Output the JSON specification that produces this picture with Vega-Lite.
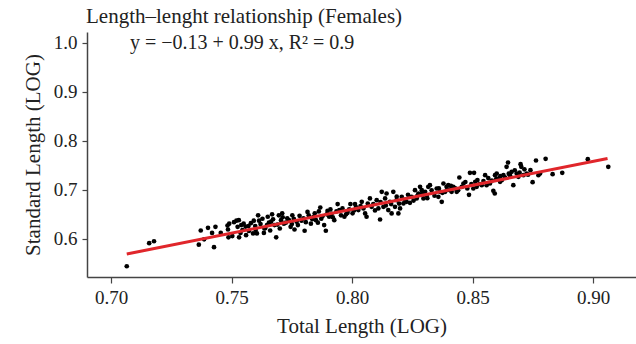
{
  "$schema": "https://vega.github.io/schema/vega-lite/v6.json",
  "width": 549,
  "height": 245,
  "autosize": {"type": "none"},
  "padding": {"left": 87, "top": 32, "right": 0, "bottom": 67},
  "background": "white",
  "config": {
    "view": {"stroke": null},
    "font": "Liberation Serif",
    "axis": {"grid": false, "domainColor": "#444", "domainWidth": 1.5, "tickColor": "#444", "tickWidth": 1.2, "tickSize": 6, "labelFont": "Liberation Serif", "labelFontSize": 19, "labelColor": "#222", "titleFont": "Liberation Serif", "titleFontSize": 21, "titleFontWeight": "normal", "titleColor": "#222", "labelPadding": 5}
  },
  "title": {"text": "Length–lenght relationship (Females)", "anchor": "start", "frame": "group", "font": "Liberation Serif", "fontSize": 21, "fontWeight": "normal", "color": "#222", "baseline": "top", "offset": 5, "dx": -1},
  "datasets": {
    "pts": [
      {"x":0.7065,"y":0.544},{"x":0.7158,"y":0.591},{"x":0.7178,"y":0.595},
      {"x":0.7364,"y":0.588},{"x":0.7372,"y":0.617},{"x":0.7386,"y":0.599},{"x":0.7402,"y":0.6225},{"x":0.7419,"y":0.612},{"x":0.7427,"y":0.583},{"x":0.7433,"y":0.6245},{"x":0.7455,"y":0.612},{"x":0.7483,"y":0.627},{"x":0.7485,"y":0.619},{"x":0.7487,"y":0.603},{"x":0.749,"y":0.631},{"x":0.7503,"y":0.6055},{"x":0.751,"y":0.634},{"x":0.752,"y":0.637},{"x":0.7525,"y":0.6245},{"x":0.753,"y":0.638},{"x":0.7531,"y":0.603},{"x":0.754,"y":0.628},
      {"x":0.7537,"y":0.612},{"x":0.755,"y":0.631},{"x":0.756,"y":0.6075},{"x":0.757,"y":0.626},{"x":0.7589,"y":0.611},{"x":0.7592,"y":0.637},{"x":0.76,"y":0.618},{"x":0.761,"y":0.648},{"x":0.7614,"y":0.637},{"x":0.7634,"y":0.612},{"x":0.7636,"y":0.621},{"x":0.7647,"y":0.628},{"x":0.765,"y":0.645},{"x":0.7664,"y":0.635},{"x":0.7668,"y":0.65},{"x":0.7678,"y":0.628},{"x":0.7685,"y":0.603},{"x":0.7696,"y":0.648},{"x":0.7705,"y":0.638},{"x":0.771,"y":0.652},{"x":0.7717,"y":0.631},{"x":0.7731,"y":0.642},{"x":0.7745,"y":0.6245},{"x":0.7752,"y":0.648},{"x":0.7761,"y":0.619},{"x":0.777,"y":0.635},{"x":0.7803,"y":0.6165},{"x":0.7815,"y":0.655},{"x":0.7829,"y":0.631},{"x":0.784,"y":0.645},{"x":0.785,"y":0.638},{"x":0.7868,"y":0.664},{"x":0.7877,"y":0.646},{"x":0.7884,"y":0.628},{"x":0.7891,"y":0.6165},{"x":0.7898,"y":0.657},{"x":0.7905,"y":0.645},{"x":0.7915,"y":0.651},{"x":0.7926,"y":0.638},{"x":0.794,"y":0.671},{"x":0.7947,"y":0.6585},{"x":0.7954,"y":0.648},{"x":0.7968,"y":0.645},{"x":0.7981,"y":0.653},{"x":0.7993,"y":0.671},{"x":0.8002,"y":0.652},{"x":0.8016,"y":0.665},
      {"x":0.8026,"y":0.6586},{"x":0.804,"y":0.6756},{"x":0.8047,"y":0.662},{"x":0.8054,"y":0.6518},{"x":0.806,"y":0.645},{"x":0.8074,"y":0.6824},{"x":0.8081,"y":0.6654},{"x":0.8102,"y":0.679},{"x":0.8109,"y":0.662},{"x":0.8116,"y":0.6395},{"x":0.8123,"y":0.696},{"x":0.813,"y":0.6654},{"x":0.8137,"y":0.6824},{"x":0.8143,"y":0.6926},{"x":0.815,"y":0.6586},{"x":0.8157,"y":0.6756},{"x":0.8164,"y":0.6518},{"x":0.8171,"y":0.696},{"x":0.8178,"y":0.6654},{"x":0.8185,"y":0.679},{"x":0.8192,"y":0.6518},{"x":0.8199,"y":0.662},{"x":0.8206,"y":0.6858},{"x":0.8213,"y":0.6722},{"x":0.8226,"y":0.6756},{"x":0.824,"y":0.6735},{"x":0.8247,"y":0.6858},{"x":0.8261,"y":0.6994},{"x":0.8268,"y":0.6824},{"x":0.8275,"y":0.6926},{"x":0.8282,"y":0.7062},{"x":0.8289,"y":0.6994},{"x":0.8296,"y":0.6824},{"x":0.8303,"y":0.696},{"x":0.8309,"y":0.6892},{"x":0.8316,"y":0.7062},{"x":0.8323,"y":0.7096},{"x":0.8351,"y":0.7028},{"x":0.8358,"y":0.6858},{"x":0.8365,"y":0.696},{"x":0.8372,"y":0.6756},{"x":0.8379,"y":0.713},{"x":0.8386,"y":0.696},{"x":0.8392,"y":0.7062},{"x":0.8399,"y":0.7096},{"x":0.8406,"y":0.6994},{"x":0.8413,"y":0.696},{"x":0.842,"y":0.7062},{"x":0.8434,"y":0.696},{"x":0.8445,"y":0.7252},{"x":0.8462,"y":0.713},{"x":0.8485,"y":0.6899},{"x":0.8489,"y":0.7348},{"x":0.8503,"y":0.7028},{"x":0.8506,"y":0.7348},{"x":0.8511,"y":0.7164},{"x":0.8517,"y":0.7062},{"x":0.8538,"y":0.7096},{"x":0.8552,"y":0.73},{"x":0.8558,"y":0.7096},{"x":0.8572,"y":0.713},{"x":0.8586,"y":0.698},{"x":0.8592,"y":0.6926},{"x":0.8593,"y":0.73},{"x":0.86,"y":0.7334},{"x":0.8607,"y":0.7232},{"x":0.8614,"y":0.7164},{"x":0.8621,"y":0.7198},{"x":0.8628,"y":0.73},{"x":0.8641,"y":0.747},{"x":0.8647,"y":0.7559},{"x":0.8655,"y":0.73},{"x":0.8662,"y":0.7368},{"x":0.8669,"y":0.7096},{"x":0.8683,"y":0.7334},{"x":0.869,"y":0.7266},{"x":0.8699,"y":0.7524},{"x":0.8702,"y":0.747},{"x":0.8711,"y":0.73},{"x":0.8724,"y":0.7334},{"x":0.874,"y":0.7402},{"x":0.8749,"y":0.7157},{"x":0.8763,"y":0.7599},{"x":0.8773,"y":0.73},{"x":0.878,"y":0.7334},{"x":0.8803,"y":0.7633},{"x":0.8832,"y":0.732},{"x":0.8872,"y":0.7348},{"x":0.8978,"y":0.7627},{"x":0.9063,"y":0.747},
      {"x":0.7545,"y":0.618},{"x":0.7558,"y":0.625},{"x":0.7572,"y":0.616},{"x":0.758,"y":0.632},{"x":0.7598,"y":0.626},{"x":0.7605,"y":0.611},{"x":0.762,"y":0.63},{"x":0.7628,"y":0.641},{"x":0.764,"y":0.622},{"x":0.7655,"y":0.633},{"x":0.766,"y":0.617},{"x":0.7672,"y":0.64},{"x":0.769,"y":0.629},{"x":0.77,"y":0.621},{"x":0.7712,"y":0.644},{"x":0.7725,"y":0.633},{"x":0.7738,"y":0.638},{"x":0.775,"y":0.63},{"x":0.7758,"y":0.641},{"x":0.7775,"y":0.628},{"x":0.7782,"y":0.647},{"x":0.779,"y":0.637},{"x":0.7798,"y":0.642},{"x":0.7808,"y":0.634},{"x":0.782,"y":0.648},{"x":0.7835,"y":0.64},{"x":0.7845,"y":0.652},{"x":0.7858,"y":0.633},{"x":0.7862,"y":0.656},{"x":0.7872,"y":0.641},{"x":0.7895,"y":0.65},{"x":0.791,"y":0.66},{"x":0.792,"y":0.644},{"x":0.7935,"y":0.656},{"x":0.796,"y":0.662},{"x":0.7975,"y":0.65},{"x":0.7988,"y":0.66},{"x":0.8008,"y":0.658},{"x":0.8012,"y":0.671},{"x":0.802,"y":0.662},{"x":0.8035,"y":0.667},{"x":0.8065,"y":0.672},{"x":0.8088,"y":0.671},{"x":0.8095,"y":0.658},{"x":0.8118,"y":0.675},{"x":0.814,"y":0.668},{"x":0.8162,"y":0.671},{"x":0.8185,"y":0.686},{"x":0.8195,"y":0.672},{"x":0.822,"y":0.68},{"x":0.8232,"y":0.69},{"x":0.8255,"y":0.678},{"x":0.827,"y":0.687},{"x":0.829,"y":0.692},{"x":0.8312,"y":0.683},{"x":0.833,"y":0.699},{"x":0.8342,"y":0.688},{"x":0.836,"y":0.703},{"x":0.8375,"y":0.694},{"x":0.8395,"y":0.7},{"x":0.841,"y":0.708},{"x":0.8428,"y":0.703},{"x":0.844,"y":0.699},{"x":0.8455,"y":0.706},{"x":0.847,"y":0.716},{"x":0.8478,"y":0.703},{"x":0.8495,"y":0.712},{"x":0.852,"y":0.72},{"x":0.853,"y":0.712},{"x":0.8545,"y":0.718},{"x":0.8565,"y":0.724},{"x":0.858,"y":0.719},{"x":0.8598,"y":0.722},{"x":0.8615,"y":0.728},{"x":0.8635,"y":0.725},{"x":0.865,"y":0.733},{"x":0.8675,"y":0.74},{"x":0.8695,"y":0.735},{"x":0.8715,"y":0.742},{"x":0.873,"y":0.731}
    ],
    "fit": [{"x":0.7065,"y":0.569},{"x":0.906,"y":0.764}],
    "eq": [{"x":0.7078,"y":1.0,"label":"y = −0.13 + 0.99 x, R² = 0.9"}]
  },
  "encoding": {
    "x": {"field": "x", "type": "quantitative", "scale": {"domain": [0.69, 0.9178], "nice": false, "zero": false},
      "axis": {"title": "Total Length (LOG)", "values": [0.7, 0.75, 0.8, 0.85, 0.9], "format": ".2f", "titlePadding": 8}},
    "y": {"field": "y", "type": "quantitative", "scale": {"domain": [0.522, 1.0224], "nice": false, "zero": false},
      "axis": {"title": "Standard Length (LOG)", "values": [0.6, 0.7, 0.8, 0.9, 1.0], "format": ".1f", "tickSize": 5, "titlePadding": 10}}
  },
  "layer": [
    {"data": {"name": "pts"}, "mark": {"type": "circle", "size": 22, "color": "#000", "opacity": 1}},
    {"data": {"name": "fit"}, "mark": {"type": "line", "color": "#e0262b", "strokeWidth": 3}},
    {"data": {"name": "eq"}, "mark": {"type": "text", "align": "left", "baseline": "middle", "font": "Liberation Serif", "fontSize": 20, "color": "#222"}, "encoding": {"text": {"field": "label"}}}
  ]
}
